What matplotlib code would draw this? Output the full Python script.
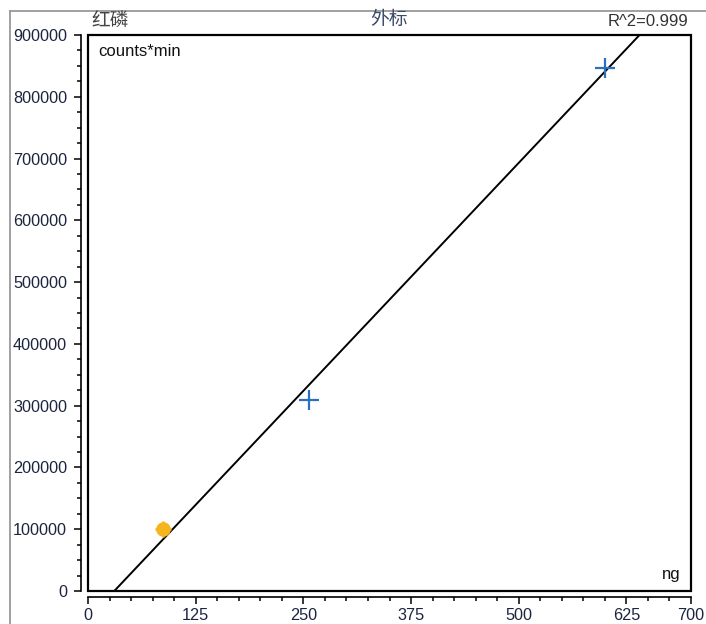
import matplotlib
matplotlib.use("Agg")
import matplotlib.pyplot as plt
from matplotlib.ticker import MultipleLocator, FixedLocator
from matplotlib.patches import Rectangle
from matplotlib.lines import Line2D
import numpy as np

plt.rcParams['font.family'] = ['Liberation Sans', 'Noto Sans CJK SC', 'DejaVu Sans']

# Data
std_x = [256, 600]            # ng, calibration standards
std_y = [309000, 846000]      # counts*min
sample_x = [87]
sample_y = [100500]
fit_slope = 1476.0
fit_intercept = -45000.0
x_ticks = [0, 125, 250, 375, 500, 625, 700]
y_ticks = [0, 100000, 200000, 300000, 400000, 500000, 600000, 700000, 800000, 900000]
compound = "红磷"
method = "外标"
r2_text = "R^2=0.999"
y_unit = "counts*min"
x_unit = "ng"

W, H = 706, 624
fig = plt.figure(figsize=(W / 100, H / 100), dpi=100)
ax = fig.add_axes([88 / W, 1 - 591 / H, (691 - 88) / W, (591 - 35) / H])

ax.set_xlim(0, 700)
ax.set_ylim(0, 900000)

# fit line
xl = np.array([0, 700])
ax.plot(xl, fit_slope * xl + fit_intercept, color='black', lw=1.4, zorder=2)

ax.plot(std_x, std_y, linestyle='none', marker='+', ms=14, mew=1.6,
        color='#2B6FC2', zorder=3)
ax.plot(sample_x, sample_y, linestyle='none', marker='o', ms=9.5,
        color='#F4B51E', mec='#F4B51E', zorder=3)
ax.plot(sample_x, sample_y, linestyle='none', marker='+', ms=12, mew=2,
        color='#F4B51E', zorder=3)

# spines
for s in ['top', 'right']:
    ax.spines[s].set_linewidth(1.2)
ax.spines['left'].set_position(('outward', 5))
ax.spines['bottom'].set_position(('outward', 4.3))
ax.spines['left'].set_linewidth(1.2)
ax.spines['bottom'].set_linewidth(1.2)
ax.add_patch(Rectangle((0, 0), 1, 1, transform=ax.transAxes, fill=False,
                       lw=1.6, edgecolor='black', clip_on=False, zorder=5))

ax.xaxis.set_major_locator(FixedLocator(x_ticks))
ax.xaxis.set_minor_locator(MultipleLocator(25))
ax.yaxis.set_major_locator(FixedLocator(y_ticks))
ax.yaxis.set_minor_locator(MultipleLocator(25000))
ax.set_xticklabels([str(v) for v in x_ticks])
ax.set_yticklabels([str(v) for v in y_ticks])
ax.tick_params(axis='both', which='major', direction='out', length=5, width=1.1,
               labelsize=11.7, colors='black', labelcolor='#1c2540')
ax.tick_params(axis='both', which='minor', direction='out', length=3, width=1.1)
ax.tick_params(axis='y', which='major', pad=5)
ax.tick_params(axis='x', which='major', pad=3)

# text annotations
fig.text(91 / W, 1 - 21 / H, compound, fontsize=13.5, color='#444444',
         ha='left', va='center')
fig.text(389 / W, 1 - 20 / H, method, fontsize=13.5, color='#3a4a6a',
         ha='center', va='center')
fig.text(688 / W, 1 - 22 / H, r2_text, fontsize=12, color='#333333',
         ha='right', va='center')
ax.text(10 / 603, 1 - (52 - 35) / 556, y_unit, transform=ax.transAxes,
        fontsize=12, color='#111111', ha='left', va='center')
ax.text(1 - 10 / 603, (591 - 575) / 556, x_unit, transform=ax.transAxes,
        fontsize=12, color='#111111', ha='right', va='center')

# outer gray border
fig.add_artist(Line2D([10 / W, 10 / W], [0, 1 - 11 / H], transform=fig.transFigure,
                      color='#999999', lw=1.3))
fig.add_artist(Line2D([10 / W, 1], [1 - 11 / H, 1 - 11 / H], transform=fig.transFigure,
                      color='#999999', lw=1.3))

fig.savefig('out.png', dpi=100)
